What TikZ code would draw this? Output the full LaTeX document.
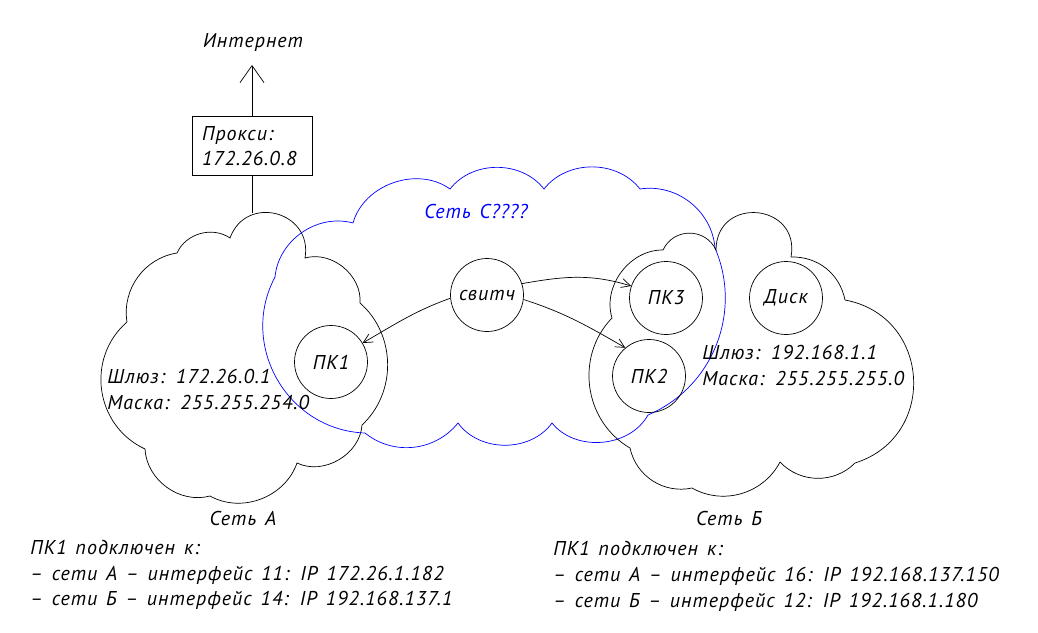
\documentclass[tikz,border=0pt]{standalone}
\usepackage{fontspec}
\setmainfont{PT Sans}
\newfontfamily\gostfont[LetterSpace=5, WordSpace=1.4]{PT Sans}
\usetikzlibrary{arrows.meta,positioning}
\definecolor{netblue}{RGB}{0,0,255}
\tikzset{
	host/.style = {
			circle,
			draw,
			minimum size = 73pt,
			inner sep = 0pt,
		},
	lbl/.style = {font=\gostfont\itshape\fontsize{20}{25}\selectfont, inner sep=0pt},
	link/.style = {-{Straight Barb[length=9pt,width=9pt]}},
	bump/.style = {bend left=#1},
}

\begin{document}
\begin{tikzpicture}[x=1pt, y=1pt, line width=0.7pt]
		\useasboundingbox (0,0) rectangle (1038,-632);

		% clouds
		\draw (127,-322) to[bump=45] (177,-253) to[bump=50] (230,-238)
		to[bump=85, looseness=1.56] (305,-258) to[bump=55] (360,-303)
		to[bump=48] (362,-425) to[bump=56] (297,-463) to[bump=50] (210,-496)
		to[bump=51] (145,-449) to[bump=57, looseness=1.1] (127,-322);

		\draw[netblue] (353,-223) to[bump=55] (450,-189) to[bump=52] (544,-189)
		to[bump=52] (640,-189) to[bump=47] (715,-248) to[bump=45] (648,-415)
		to[bump=56] (552,-423) to[bump=54] (458,-423) to[bump=45] (365,-433)
		to[bump=58, looseness=1.1] (275,-277) to[bump=50] (353,-223);

		\draw (612,-318) to[bump=54] (663,-250) to[bump=65, looseness=1.2] (716,-250)
		to[bump=95, looseness=1.86] (791,-257) to[bump=40] (845,-300)
		to[bump=76, looseness=1.37] (855,-463) to[bump=46] (780,-462)
		to[bump=46] (692,-488) to[bump=45] (630,-448)
		to[bump=52, looseness=1.04] (612,-318);

		% proxy and internet
		\node[lbl, draw, text width=100pt, inner sep=10pt, align=left,
			minimum height=58pt] (prx) at (252,-146) {Прокси:\\172.26.0.8};
		\coordinate (inet) at (252,-65);
		\coordinate (topA) at (252,-213);
		\node[lbl, anchor=base] (inettext) at (253,-47) {Интернет};
		\draw[-{Straight Barb[length=17pt,width=24pt]}] (prx.north) -- (inet);
		\draw (prx.south) -- (topA);

		% hosts
		\node[host, lbl] (sw) at (487,-295) {свитч};
		\node[host, lbl] (pc1) at (331,-362) {ПК1};
		\node[host, lbl] (pc3) at (666,-298) {ПК3};
		\node[host, lbl] (pc2) at (649,-376) {ПК2};
		\node[host, lbl] (disk) at (786,-298) {Диск};

		\draw[link] (sw.185) to[out=200, in=30] (pc1.31);
		\draw[link] (sw.18) to[out=10, in=163] (pc3.161);
		\draw[link] (sw.-7) to[out=-18, in=150] (pc2.130);

		% labels
		\node[lbl, anchor=base, text=netblue] (netC) at (476,-218) {Сеть С????};
		\node[lbl, anchor=base] (netA) at (243,-525) {Сеть А};
		\node[lbl, anchor=base] (netB) at (729,-525) {Сеть Б};

		\foreach \x/\y/\t [count=\i] in {
		107/383/{Шлюз: 172.26.0.1},
		107/409/{Маска: 255.255.254.0},
		702/359/{Шлюз: 192.168.1.1},
		702/385/{Маска: 255.255.255.0},
		30/554/{ПК1 подключен к:},
		30/580/{– сети А – интерфейс 11: IP 172.26.1.182},
		30/605/{– сети Б – интерфейс 14: IP 192.168.137.1},
		553/555/{ПК1 подключен к:},
		553/581/{– сети А – интерфейс 16: IP 192.168.137.150},
		553/607/{– сети Б – интерфейс 12: IP 192.168.1.180}
		} {
		\node[lbl, anchor=base west] (txt\i) at (\x,-\y) {\t};
		}
	\end{tikzpicture}
\end{document}
